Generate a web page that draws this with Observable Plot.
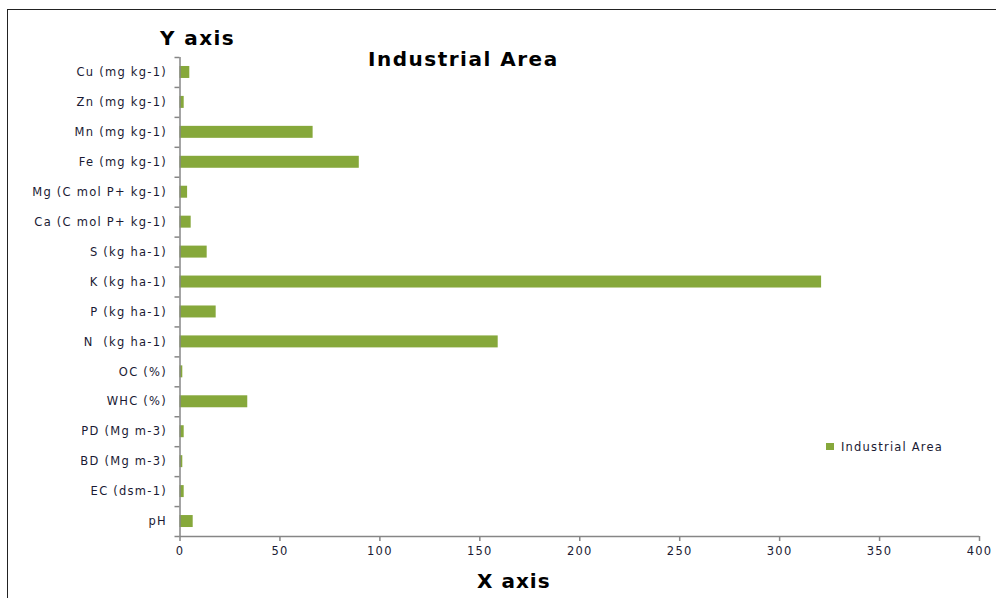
<!DOCTYPE html>
<html>
<head>
<meta charset="utf-8">
<script src="https://cdn.jsdelivr.net/npm/d3@7"></script>
<script src="https://cdn.jsdelivr.net/npm/@observablehq/plot@0.6"></script>
<style>
  html, body { margin: 0; padding: 0; background: #fff; }
  #wrap { position: relative; width: 996px; height: 598px; overflow: hidden; font-family: "DejaVu Sans", sans-serif; }
  #border { position: absolute; left: 7px; top: 9px; width: 1200px; height: 1200px; border-left: 1.5px solid #222; border-top: 1.5px solid #222; }
  .ttl { position: absolute; font-weight: bold; color: #000; white-space: nowrap; line-height: 1; }
  #legend { position: absolute; left: 826px; top: 439px; font-size: 11.5px; letter-spacing: 1.2px; color: #1a1a33; white-space: nowrap; line-height: 16px; }
  #legend span.sw { display: inline-block; width: 8px; height: 7px; background: #86a83b; margin-right: 7px; vertical-align: 1px; }
  svg text { letter-spacing: 1.25px; }
</style>
</head>
<body>
<div id="wrap">
  <div id="chart"></div>
  <div id="border"></div>
  <div class="ttl" id="ylab" style="left:160px; top:28px; font-size:20px; letter-spacing:1.4px;">Y axis</div>
  <div class="ttl" id="title" style="left:368px; top:49px; font-size:20px; letter-spacing:1.5px;">Industrial Area</div>
  <div class="ttl" id="xlab" style="left:477px; top:571px; font-size:20px; letter-spacing:1px;">X axis</div>
  <div id="legend"><span class="sw"></span>Industrial Area</div>
</div>
<script>
// Categories from bottom (pH) to top (Cu)
const categories = ["pH", "EC (dsm-1)", "BD (Mg m-3)", "PD (Mg m-3)", "WHC (%)", "OC (%)",
  "N  (kg ha-1)", "P (kg ha-1)", "K (kg ha-1)", "S (kg ha-1)", "Ca (C mol P+ kg-1)",
  "Mg (C mol P+ kg-1)", "Fe (mg kg-1)", "Mn (mg kg-1)", "Zn (mg kg-1)", "Cu (mg kg-1)"];
const industrialArea = [6.6, 2.1, 1.4, 2.1, 33.9, 1.4, 159.2, 18.1, 321, 13.6, 5.6, 3.8, 89.7, 66.6, 2.1, 4.9];
const xTicks = [0, 50, 100, 150, 200, 250, 300, 350, 400];

const data = categories.map((c, i) => ({cat: c, i, value: industrialArea[i]}));
const n = categories.length;
const boundaries = d3.range(n + 1).map(k => k - 0.5);

const chart = Plot.plot({
  width: 996,
  height: 598,
  marginLeft: 179.5,
  marginRight: 17,
  marginTop: 57,
  marginBottom: 62,
  style: {fontFamily: "'DejaVu Sans', sans-serif", fontSize: "11.5px", color: "#1a1a33", background: "transparent"},
  x: {domain: [0, 400]},
  y: {domain: [-0.5, n - 0.5]},
  marks: [
    Plot.rect(data, {x1: 0, x2: "value", y1: d => d.i - 0.2, y2: d => d.i + 0.2, fill: "#86a83b"}),
    Plot.ruleX([0], {stroke: "#868686", strokeWidth: 1.5}),
    Plot.ruleY([boundaries[0]], {stroke: "#868686", strokeWidth: 1.5}),
    Plot.axisY({ticks: boundaries, tickSize: 5, tickFormat: () => "", stroke: "#868686", strokeWidth: 1.5, label: null}),
    Plot.axisY({ticks: d3.range(n), tickSize: 0, tickPadding: 13, tickFormat: i => categories[i], label: null}),
    Plot.axisX({ticks: xTicks, tickSize: 5, tickPadding: 5, stroke: "#868686", strokeWidth: 1.5, label: null, tickFormat: d3.format("d")})
  ]
});
document.getElementById("chart").appendChild(chart);
</script>
</body>
</html>
